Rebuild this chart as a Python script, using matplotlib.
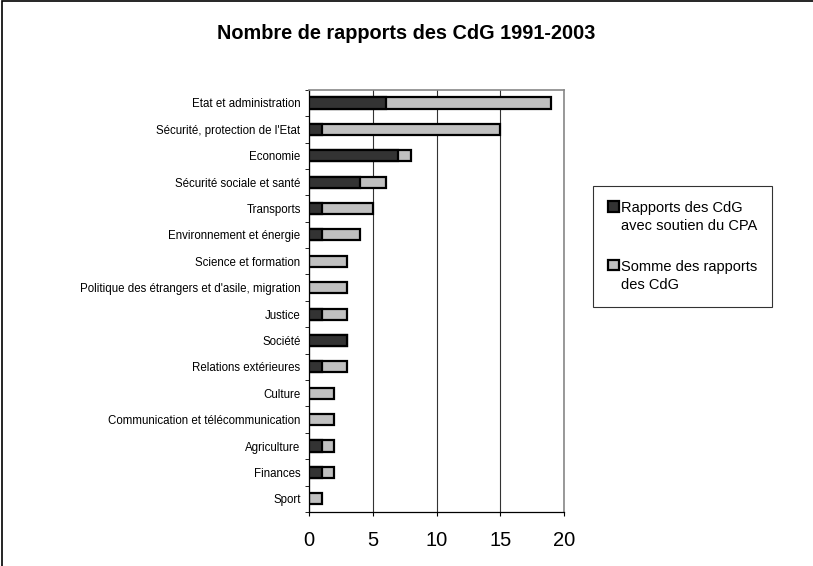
import matplotlib.pyplot as plt
import numpy as np
from matplotlib.patches import Rectangle

plt.rcParams['font.family'] = ['Liberation Sans', 'DejaVu Sans']

categories = ['Etat et administration', "Sécurité, protection de l'Etat", 'Economie',
              'Sécurité sociale et santé', 'Transports', 'Environnement et énergie',
              'Science et formation', "Politique des étrangers et d'asile, migration",
              'Justice', 'Société', 'Relations extérieures', 'Culture',
              'Communication et télécommunication', 'Agriculture', 'Finances', 'Sport']
avec_cpa = [6, 1, 7, 4, 1, 1, 0, 0, 1, 3, 1, 0, 0, 1, 1, 0]
total = [19, 15, 8, 6, 5, 4, 3, 3, 3, 3, 3, 2, 2, 2, 2, 1]

fig = plt.figure(figsize=(8.13, 5.66), dpi=100)
ax = fig.add_axes([0.380, 0.0954, 0.314, 0.746])

y = np.arange(len(categories))[::-1]
h = 0.42
ax.barh(y, total, height=h, color='#c0c0c0', edgecolor='black', linewidth=1.6,
        label='Somme des rapports\ndes CdG', zorder=3)
ax.barh(y, avec_cpa, height=h, color='#333333', edgecolor='black', linewidth=1.6,
        label='Rapports des CdG\navec soutien du CPA', zorder=4)

ax.set_xlim(0, 20)
ax.set_ylim(-0.5, len(categories) - 0.5)
ax.set_xticks([0, 5, 10, 15, 20])
ax.tick_params(axis='x', labelsize=14.5, length=3, direction='out', pad=11)
ax.set_yticks(y)
ax.set_yticklabels(categories, fontsize=8.3)
ax.tick_params(axis='y', which='major', length=0, pad=6)
ax.set_yticks(np.arange(-0.5, len(categories)), minor=True)
ax.tick_params(axis='y', which='minor', length=3, direction='out')
ax.grid(axis='x', color='#333333', linewidth=0.8, zorder=0)

for s in ['top', 'right']:
    ax.spines[s].set_color('#888888')
    ax.spines[s].set_linewidth(1.2)
for s in ['left', 'bottom']:
    ax.spines[s].set_color('black')
    ax.spines[s].set_linewidth(0.9)

fig.text(0.5, 0.940, 'Nombre de rapports des CdG 1991-2003', ha='center', va='center',
         fontsize=14.3, fontweight='bold')

handles, labels = ax.get_legend_handles_labels()
leg = fig.legend(handles[::-1], labels[::-1], loc='upper left',
                 bbox_to_anchor=(0.7208, 0.6837), fontsize=10.5, frameon=True,
                 fancybox=False, edgecolor='black', handlelength=0.75, handleheight=0.75,
                 handletextpad=0.15, labelspacing=1.8, borderpad=1.0)
leg.get_frame().set_linewidth(0.8)
for t in leg.get_texts():
    t.set_linespacing(1.4)
# put the legend squares level with the first line of each label
for col in leg._legend_handle_box.get_children():
    for item in col.get_children():
        item.align = 'top'

# outer frame on left and top
fig.add_artist(Rectangle((0.002, -0.01), 1.1, 1.008, transform=fig.transFigure,
                         fill=False, edgecolor='black', linewidth=1.2))

fig.savefig('out.png', dpi=100)
